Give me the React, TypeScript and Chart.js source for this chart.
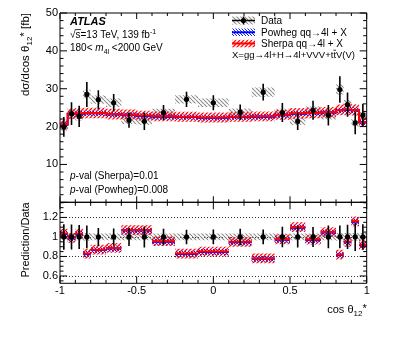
import React, { useEffect, useRef } from "react";
import { Chart, registerables } from "chart.js";

Chart.register(...registerables);

// ---------- data ----------
const binEdges = [-1, -0.95, -0.9, -0.85, -0.8, -0.7, -0.6, -0.5, -0.4, -0.25, -0.1, 0.1, 0.25, 0.4, 0.5, 0.6, 0.7, 0.8, 0.85, 0.9, 0.95, 1];
const dataValues = [19.9, 23.4, 22.7, 28.5, 27.1, 26.3, 21.7, 21.4, 23.7, 27.2, 26.3, 23.8, 29.1, 23.7, 21.4, 24.3, 23.0, 29.8, 25.8, 21.0, 23.0];
const dataErrors = [2.6, 3.0, 2.8, 3.3, 2.5, 2.3, 2.0, 2.3, 2.0, 2.0, 2.0, 2.0, 2.2, 2.5, 2.3, 2.5, 2.7, 3.5, 3.2, 3.0, 3.0];
const dataSyst = [1.0, 1.1, 1.1, 1.2, 1.1, 1.1, 1.0, 1.0, 1.0, 1.1, 1.1, 1.0, 1.2, 1.0, 1.0, 1.0, 1.1, 1.3, 1.2, 1.0, 1.0];
const sherpaValues = [20.6, 23.4, 23.5, 23.6, 23.6, 23.3, 23.2, 22.9, 22.7, 22.6, 22.4, 22.6, 22.7, 23.1, 23.5, 23.6, 23.8, 24.4, 24.5, 24.4, 21.2];
const sherpaUnc = [1.3, 1.4, 1.4, 1.4, 1.4, 1.4, 1.3, 1.3, 1.3, 1.3, 1.3, 1.3, 1.3, 1.3, 1.4, 1.4, 1.4, 1.4, 1.5, 1.5, 1.3];
const powhegValues = [20.5, 23.3, 23.4, 23.5, 23.5, 23.2, 23.1, 22.8, 22.6, 22.5, 22.3, 22.5, 22.6, 23.0, 23.4, 23.5, 23.7, 24.3, 24.4, 24.3, 21.1];
const powhegUnc = [0.7, 0.7, 0.7, 0.7, 0.7, 0.7, 0.7, 0.7, 0.7, 0.7, 0.7, 0.7, 0.7, 0.7, 0.7, 0.7, 0.7, 0.7, 0.8, 0.8, 0.7];

const dataRatioValues = [1, 1, 1, 1, 1, 1, 1, 1, 1, 1, 1, 1, 1, 1, 1, 1, 1, 1, 1, 1, 1];
const dataRatioErr = [0.13, 0.128, 0.123, 0.116, 0.092, 0.087, 0.092, 0.107, 0.084, 0.074, 0.076, 0.084, 0.076, 0.105, 0.107, 0.103, 0.117, 0.117, 0.124, 0.143, 0.13];
const dataRatioSyst = [0.035, 0.035, 0.035, 0.04, 0.035, 0.035, 0.035, 0.035, 0.035, 0.035, 0.035, 0.035, 0.035, 0.035, 0.035, 0.035, 0.035, 0.04, 0.04, 0.04, 0.04];
const sherpaRatio = [1.035, 0.99, 1.035, 0.83, 0.87, 0.887, 1.07, 1.07, 0.956, 0.83, 0.85, 0.95, 0.78, 0.976, 1.1, 0.973, 1.05, 0.82, 0.95, 1.16, 0.92];
const sherpaRatioUnc = [0.05, 0.05, 0.05, 0.05, 0.05, 0.05, 0.05, 0.05, 0.05, 0.05, 0.05, 0.05, 0.05, 0.05, 0.05, 0.05, 0.05, 0.05, 0.05, 0.05, 0.05];
const powhegRatio = [1.03, 0.985, 1.03, 0.825, 0.865, 0.882, 1.065, 1.065, 0.951, 0.826, 0.846, 0.945, 0.776, 0.971, 1.095, 0.968, 1.045, 0.816, 0.946, 1.155, 0.916];
const powhegRatioUnc = [0.03, 0.03, 0.03, 0.03, 0.03, 0.03, 0.03, 0.03, 0.03, 0.03, 0.03, 0.03, 0.03, 0.03, 0.03, 0.03, 0.03, 0.03, 0.03, 0.03, 0.03];

const xTicks = [-1, -0.5, 0, 0.5, 1];
const topYTicks = [10, 20, 30, 40, 50];
const ratioYTicks = [0.6, 0.8, 1, 1.2];

// ---------- helpers ----------
const FONT = "'Liberation Sans', Arial, Helvetica, sans-serif";
const W = 399;
const H = 337;
const RED = "#ff0000";
const BLUE = "#0000ff";

const centers = binEdges.slice(0, -1).map((e, i) => (e + binEdges[i + 1]) / 2);
// Chart.js "before" stepping holds each value until the next point
const stepData = (vals: number[]) => binEdges.map((x, i) => ({ x, y: vals[Math.min(i, vals.length - 1)] }));
const segData = (vals: number[]) =>
  vals.flatMap((v, i) => [
    { x: binEdges[i], y: v },
    { x: binEdges[i + 1], y: v },
    { x: binEdges[i + 1], y: null as any },
  ]);
const shift = (vals: number[], d: number[], s: number) => vals.map((v, i) => v + s * d[i]);

function hatch(ctx: CanvasRenderingContext2D, color: string, dir: number, size: number, lw: number) {
  const c = document.createElement("canvas");
  c.width = size;
  c.height = size;
  const g = c.getContext("2d")!;
  g.strokeStyle = color;
  g.lineWidth = lw;
  g.beginPath();
  for (let k = -1; k <= 1; k++) {
    if (dir > 0) {
      g.moveTo(k * size, size);
      g.lineTo(k * size + size, 0);
    } else {
      g.moveTo(k * size, 0);
      g.lineTo(k * size + size, size);
    }
  }
  g.stroke();
  return ctx.createPattern(c, "repeat")!;
}

type Part = { t: string; size: number; style?: string; weight?: string; dy?: number };
function setFont(ctx: CanvasRenderingContext2D, p: Part) {
  ctx.font = `${p.style || "normal"} ${p.weight || "normal"} ${p.size}px ${FONT}`;
}
function richWidth(ctx: CanvasRenderingContext2D, parts: Part[]) {
  let w = 0;
  for (const p of parts) {
    setFont(ctx, p);
    w += ctx.measureText(p.t).width;
  }
  return w;
}
function drawRich(ctx: CanvasRenderingContext2D, parts: Part[], x: number, y: number) {
  let cx = x;
  ctx.textBaseline = "alphabetic";
  ctx.textAlign = "left";
  for (const p of parts) {
    setFont(ctx, p);
    ctx.fillText(p.t, cx, y + (p.dy || 0));
    cx += ctx.measureText(p.t).width;
  }
  return cx;
}

const lineDs = (vals: number[], color: string, width: number, segmented: boolean) => ({
  data: segmented ? segData(vals) : stepData(vals),
  borderColor: color,
  borderWidth: width,
  pointRadius: 0,
  stepped: segmented ? false : "before",
  spanGaps: false,
  fill: false,
  tension: 0,
});
const bandDs = (vals: number[], target: number | false, pattern: any) => ({
  data: stepData(vals),
  borderColor: "rgba(0,0,0,0)",
  borderWidth: 0,
  pointRadius: 0,
  stepped: "before",
  fill: target === false ? false : { target },
  backgroundColor: pattern,
  tension: 0,
});
const pointsDs = (vals: number[]) => ({
  data: centers.map((x, i) => ({ x, y: vals[i] })),
  showLine: false,
  pointRadius: 2.6,
  pointBackgroundColor: "#000",
  pointBorderColor: "#000",
  pointBorderWidth: 0,
  borderColor: "#000",
  fill: false,
});

function errorBarPlugin(vals: number[], errs: number[]) {
  return {
    id: "errbars",
    afterDatasetsDraw(chart: any) {
      const { ctx, scales } = chart;
      const x = scales.x;
      const y = scales.y;
      ctx.save();
      ctx.strokeStyle = "#000";
      ctx.lineWidth = 1.6;
      ctx.beginPath();
      centers.forEach((c, i) => {
        const px = x.getPixelForValue(c);
        ctx.moveTo(px, y.getPixelForValue(vals[i] - errs[i]));
        ctx.lineTo(px, y.getPixelForValue(vals[i] + errs[i]));
      });
      ctx.stroke();
      ctx.restore();
    },
  };
}

type FrameCfg = {
  xMajor: number[];
  xMinorStep: number;
  yMajor: number[];
  yMinorStart: number;
  yMinorEnd: number;
  yMinorStep: number;
  major: number;
  minor: number;
  xMajorLen: number;
  xMinorLen: number;
  dotted?: number[];
};
function framePlugin(cfg: FrameCfg) {
  return {
    id: "frame",
    beforeDatasetsDraw(chart: any) {
      if (!cfg.dotted) return;
      const { ctx, chartArea: a, scales } = chart;
      ctx.save();
      ctx.strokeStyle = "#333";
      ctx.lineWidth = 1;
      ctx.setLineDash([1, 2]);
      for (const v of cfg.dotted) {
        const py = Math.round(scales.y.getPixelForValue(v)) + 0.5;
        ctx.beginPath();
        ctx.moveTo(a.left, py);
        ctx.lineTo(a.right, py);
        ctx.stroke();
      }
      ctx.restore();
    },
    afterDatasetsDraw(chart: any) {
      const { ctx, chartArea: a, scales } = chart;
      const sx = scales.x;
      const sy = scales.y;
      ctx.save();
      ctx.strokeStyle = "#000";
      ctx.lineWidth = 1;
      ctx.beginPath();
      ctx.rect(a.left, a.top, a.right - a.left, a.bottom - a.top);
      ctx.stroke();
      ctx.beginPath();
      const nx = Math.round((sx.max - sx.min) / cfg.xMinorStep);
      for (let k = 0; k <= nx; k++) {
        const v = sx.min + k * cfg.xMinorStep;
        const isMajor = cfg.xMajor.some((m) => Math.abs(m - v) < 1e-6);
        const len = isMajor ? cfg.xMajorLen : cfg.xMinorLen;
        const px = sx.getPixelForValue(v);
        ctx.moveTo(px, a.bottom);
        ctx.lineTo(px, a.bottom - len);
        ctx.moveTo(px, a.top);
        ctx.lineTo(px, a.top + len);
      }
      const ny = Math.round((cfg.yMinorEnd - cfg.yMinorStart) / cfg.yMinorStep);
      for (let k = 0; k <= ny; k++) {
        const v = cfg.yMinorStart + k * cfg.yMinorStep;
        const isMajor = cfg.yMajor.some((m) => Math.abs(m - v) < 1e-6);
        const len = isMajor ? cfg.major : cfg.minor;
        const py = sy.getPixelForValue(v);
        ctx.moveTo(a.left, py);
        ctx.lineTo(a.left + len, py);
        ctx.moveTo(a.right, py);
        ctx.lineTo(a.right - len, py);
      }
      ctx.stroke();
      ctx.restore();
    },
  };
}

// ---------- component ----------
export default function App() {
  const topRef = useRef<HTMLCanvasElement>(null);
  const botRef = useRef<HTMLCanvasElement>(null);

  useEffect(() => {
    const topCanvas = topRef.current!;
    const botCanvas = botRef.current!;
    const tctx = topCanvas.getContext("2d")!;
    const bctx = botCanvas.getContext("2d")!;

    const redT = hatch(tctx, "#ff1010", 1, 4, 1.3);
    const blueT = hatch(tctx, "#1020ff", -1, 3, 1);
    const grayT = hatch(tctx, "#8c8c8c", -1, 4, 1.1);
    const redB = hatch(bctx, "#ff1010", 1, 4, 1.3);
    const blueB = hatch(bctx, "#1020ff", -1, 3, 1);
    const grayB = hatch(bctx, "#8c8c8c", -1, 4, 1.1);

    const plotLeft = 60;
    const plotRight = 366.7;
    const topTop = 13;
    const split = 202.3;
    const ratioBottom = 283.3;

    const tickFont = { family: FONT, size: 11 };

    const topAnnotations = {
      id: "annot",
      afterDraw(chart: any) {
        const ctx = chart.ctx as CanvasRenderingContext2D;
        ctx.save();
        ctx.fillStyle = "#000";
        drawRich(ctx, [{ t: "ATLAS", size: 11, style: "italic", weight: "bold" }], 70, 24.7);
        setFont(ctx, { t: "", size: 10 });
        const sqrtW = ctx.measureText("\u221A").width;
        const sW = ctx.measureText("s").width;
        drawRich(
          ctx,
          [
            { t: "\u221As=13 TeV, 139 fb", size: 10 },
            { t: "-1", size: 7, dy: -4 },
          ],
          70,
          38
        );
        ctx.strokeStyle = "#000";
        ctx.lineWidth = 0.8;
        ctx.beginPath();
        ctx.moveTo(70 + sqrtW - 0.5, 29.6);
        ctx.lineTo(70 + sqrtW + sW + 0.5, 29.6);
        ctx.stroke();
        drawRich(
          ctx,
          [
            { t: "180< ", size: 10 },
            { t: "m", size: 10, style: "italic" },
            { t: "4l", size: 7, dy: 2.5 },
            { t: " <2000 GeV", size: 10 },
          ],
          70,
          51.3
        );
        drawRich(ctx, [{ t: "p", size: 10, style: "italic" }, { t: "-val (Sherpa)=0.01", size: 10 }], 70, 178.6);
        drawRich(ctx, [{ t: "p", size: 10, style: "italic" }, { t: "-val (Powheg)=0.008", size: 10 }], 70, 192.6);

        // legend
        const lx0 = 232;
        const lx1 = 255;
        ctx.fillStyle = grayT;
        ctx.fillRect(lx0, 16.5, lx1 - lx0, 8);
        ctx.strokeStyle = "#000";
        ctx.lineWidth = 1.4;
        ctx.beginPath();
        ctx.moveTo(lx0, 20.5);
        ctx.lineTo(lx1, 20.5);
        ctx.moveTo((lx0 + lx1) / 2, 16.5);
        ctx.lineTo((lx0 + lx1) / 2, 24.5);
        ctx.stroke();
        ctx.fillStyle = "#000";
        ctx.beginPath();
        ctx.arc((lx0 + lx1) / 2, 20.5, 2.6, 0, Math.PI * 2);
        ctx.fill();
        ctx.fillStyle = blueT;
        ctx.fillRect(lx0, 28.5, lx1 - lx0, 7.5);
        ctx.strokeStyle = BLUE;
        ctx.lineWidth = 2;
        ctx.beginPath();
        ctx.moveTo(lx0, 32.3);
        ctx.lineTo(lx1, 32.3);
        ctx.stroke();
        ctx.fillStyle = redT;
        ctx.fillRect(lx0, 39.8, lx1 - lx0, 7.5);
        ctx.strokeStyle = RED;
        ctx.beginPath();
        ctx.moveTo(lx0, 43.5);
        ctx.lineTo(lx1, 43.5);
        ctx.stroke();
        ctx.fillStyle = "#000";
        drawRich(ctx, [{ t: "Data", size: 10 }], 261, 24.3);
        drawRich(ctx, [{ t: "Powheg qq\u21924l + X", size: 10 }], 261, 35.9);
        drawRich(ctx, [{ t: "Sherpa qq\u21924l + X", size: 10 }], 261, 46.9);
        const xEnd = drawRich(ctx, [{ t: "X=gg\u21924l+H\u21924l+VVV+t", size: 9.5 }], 232, 58.4);
        setFont(ctx, { t: "", size: 9.5 });
        const tW = ctx.measureText("t").width;
        drawRich(ctx, [{ t: "tV(V)", size: 9.5 }], xEnd, 58.4);
        ctx.strokeStyle = "#000";
        ctx.lineWidth = 0.8;
        ctx.beginPath();
        ctx.moveTo(xEnd, 50.2);
        ctx.lineTo(xEnd + tW, 50.2);
        ctx.stroke();

        const yParts: Part[] = [
          { t: "d\u03C3/dcos \u03B8", size: 11.5 },
          { t: "12", size: 8, dy: 3 },
          { t: "*", size: 11.5, dy: -1 },
          { t: " [fb]", size: 11.5 },
        ];
        const yw = richWidth(ctx, yParts);
        ctx.translate(29, topTop);
        ctx.rotate(-Math.PI / 2);
        drawRich(ctx, yParts, -yw, 0);
        ctx.restore();
      },
    };

    const botAnnotations = {
      id: "annot2",
      afterDraw(chart: any) {
        const ctx = chart.ctx as CanvasRenderingContext2D;
        ctx.save();
        ctx.fillStyle = "#000";
        const xParts: Part[] = [
          { t: "cos \u03B8", size: 11 },
          { t: "12", size: 8, dy: 3 },
          { t: "*", size: 11, dy: -1 },
        ];
        const xw = richWidth(ctx, xParts);
        drawRich(ctx, xParts, plotRight - xw, 313);
        const rParts: Part[] = [{ t: "Prediction/Data", size: 11 }];
        const rw = richWidth(ctx, rParts);
        ctx.translate(29, split);
        ctx.rotate(-Math.PI / 2);
        drawRich(ctx, rParts, -rw, 0);
        ctx.restore();
      },
    };

    const topChart = new Chart(topCanvas, {
      type: "line",
      data: {
        datasets: [
          pointsDs(dataValues) as any,
          lineDs(sherpaValues, RED, 2, false),
          lineDs(powhegValues, BLUE, 2, false),
          bandDs(shift(powhegValues, powhegUnc, 1), 4, blueT),
          bandDs(shift(powhegValues, powhegUnc, -1), false, blueT),
          bandDs(shift(sherpaValues, sherpaUnc, 1), 6, redT),
          bandDs(shift(sherpaValues, sherpaUnc, -1), false, redT),
          bandDs(shift(dataValues, dataSyst, 1), 8, grayT),
          bandDs(shift(dataValues, dataSyst, -1), false, grayT),
        ],
      },
      options: {
        animation: false,
        responsive: false,
        devicePixelRatio: 1,
        events: [],
        layout: { padding: { left: 0, top: topTop, right: W - plotRight, bottom: H - split } },
        plugins: { legend: { display: false }, tooltip: { enabled: false } },
        scales: {
          x: { type: "linear", min: -1, max: 1, display: false },
          y: {
            type: "linear",
            min: 0,
            max: 50,
            afterFit: (s: any) => {
              s.width = plotLeft;
            },
            afterBuildTicks: (s: any) => {
              s.ticks = topYTicks.map((v) => ({ value: v }));
            },
            grid: { display: false, drawTicks: false },
            border: { display: false },
            ticks: { padding: 2, color: "#000", font: tickFont, callback: (v: any) => String(v) },
          },
        },
      } as any,
      plugins: [
        framePlugin({
          xMajor: xTicks,
          xMinorStep: 0.1,
          yMajor: topYTicks.concat([0]),
          yMinorStart: 0,
          yMinorEnd: 50,
          yMinorStep: 2,
          major: 7,
          minor: 3.5,
          xMajorLen: 6,
          xMinorLen: 3,
        }),
        errorBarPlugin(dataValues, dataErrors),
        topAnnotations,
      ] as any,
    });

    const botChart = new Chart(botCanvas, {
      type: "line",
      data: {
        datasets: [
          pointsDs(dataRatioValues) as any,
          lineDs(sherpaRatio, RED, 2, true),
          lineDs(powhegRatio, BLUE, 2, true),
          bandDs(shift(powhegRatio, powhegRatioUnc, 1), 4, blueB),
          bandDs(shift(powhegRatio, powhegRatioUnc, -1), false, blueB),
          bandDs(shift(sherpaRatio, sherpaRatioUnc, 1), 6, redB),
          bandDs(shift(sherpaRatio, sherpaRatioUnc, -1), false, redB),
          bandDs(shift(dataRatioValues, dataRatioSyst, 1), 8, grayB),
          bandDs(shift(dataRatioValues, dataRatioSyst, -1), false, grayB),
        ],
      },
      options: {
        animation: false,
        responsive: false,
        devicePixelRatio: 1,
        events: [],
        layout: { padding: { left: 0, top: split, right: W - plotRight, bottom: 0 } },
        plugins: { legend: { display: false }, tooltip: { enabled: false } },
        scales: {
          x: {
            type: "linear",
            min: -1,
            max: 1,
            afterFit: (s: any) => {
              s.height = H - ratioBottom;
            },
            afterBuildTicks: (s: any) => {
              s.ticks = xTicks.map((v) => ({ value: v }));
            },
            grid: { display: false, drawTicks: false },
            border: { display: false },
            ticks: { padding: 1, color: "#000", font: tickFont, maxRotation: 0, autoSkip: false, callback: (v: any) => String(v) },
          },
          y: {
            type: "linear",
            min: 0.525,
            max: 1.355,
            afterFit: (s: any) => {
              s.width = plotLeft;
            },
            afterBuildTicks: (s: any) => {
              s.ticks = ratioYTicks.map((v) => ({ value: v }));
            },
            grid: { display: false, drawTicks: false },
            border: { display: false },
            ticks: { padding: 2, color: "#000", font: tickFont, callback: (v: any) => String(v) },
          },
        },
      } as any,
      plugins: [
        framePlugin({
          xMajor: xTicks,
          xMinorStep: 0.1,
          yMajor: ratioYTicks,
          yMinorStart: 0.55,
          yMinorEnd: 1.35,
          yMinorStep: 0.05,
          major: 7,
          minor: 3.5,
          xMajorLen: 7,
          xMinorLen: 3.5,
          dotted: ratioYTicks,
        }),
        errorBarPlugin(dataRatioValues, dataRatioErr),
        botAnnotations,
      ] as any,
    });

    return () => {
      topChart.destroy();
      botChart.destroy();
    };
  }, []);

  const cs: React.CSSProperties = { position: "absolute", left: 0, top: 0, width: W, height: H };
  return (
    <div style={{ position: "absolute", left: 0, top: 0, width: W, height: H, background: "#fff" }}>
      <canvas ref={topRef} width={W} height={H} style={cs} />
      <canvas ref={botRef} width={W} height={H} style={cs} />
    </div>
  );
}
